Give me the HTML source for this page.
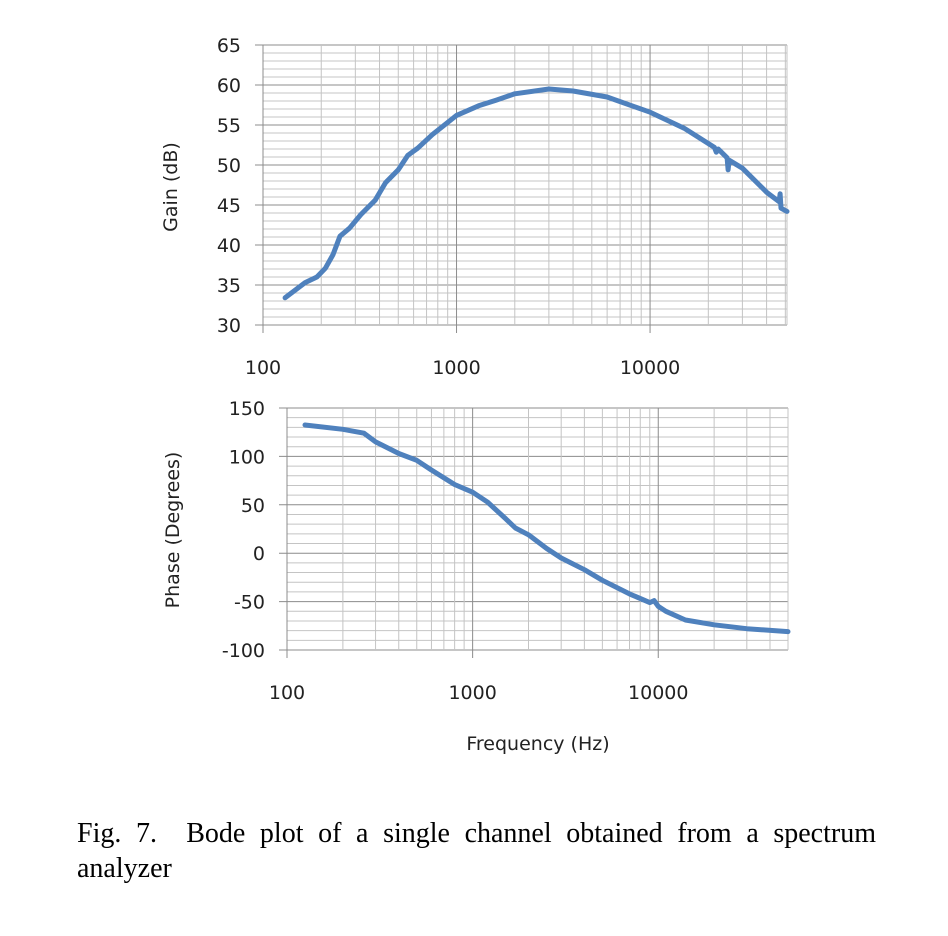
<!DOCTYPE html>
<html><head><meta charset="utf-8"><style>
body{margin:0;background:#fff;width:948px;height:936px;overflow:hidden}
svg{position:absolute;left:0;top:0}
.t{font-family:"DejaVu Sans","Liberation Sans",sans-serif;font-size:19px;fill:#222}
.cap{position:absolute;left:77px;top:816px;width:799px;font-family:"Liberation Serif",serif;font-size:28px;line-height:35px;text-align:justify;color:#000}
</style></head><body>
<svg id="s" width="948" height="936"></svg>
<div class="cap">Fig. 7.&nbsp; Bode plot of a single channel obtained from a spectrum analyzer</div>
<script>
const gainFreq=[130,165,190,210,230,250,280,320,380,430,500,560,630,750,1000,1300,1600,2000,3000,4000,6000,10000,15000,21500,22000,22500,25000,25300,25600,30000,40000,46500,47000,47500,51000];
const gainDb=[33.4,35.3,36,37.1,38.8,41.1,42.1,43.8,45.6,47.8,49.4,51.2,52.1,53.8,56.2,57.4,58.1,58.9,59.5,59.25,58.5,56.6,54.6,52.2,51.6,52.0,50.9,49.4,50.6,49.6,46.6,45.4,46.4,44.6,44.2];
const phaseFreq=[125,200,260,300,400,500,600,800,1000,1200,1500,1700,2000,2500,3000,4000,5000,7000,9000,9500,10000,11000,14000,20000,30000,50000];
const phaseDeg=[132.4,128,124,115,103,96,86,71,63,53,36,26,19,5,-5,-17,-28,-42,-51,-49,-55,-60,-69,-74,-78,-81];
const gainTicks=[30,35,40,45,50,55,60,65];
const phaseTicks=[-100,-50,0,50,100,150];
const freqTicks=[100,1000,10000];
const NS='http://www.w3.org/2000/svg';
const svg=document.getElementById('s');
function el(t,a,p){const e=document.createElementNS(NS,t);for(const k in a)e.setAttribute(k,a[k]);(p||svg).appendChild(e);return e;}
function plot(o){
  const g=el('g',{});
  
  
  const lx=Math.log10(o.fmin),rx=Math.log10(o.fmax);
  const X=f=>o.x0+(Math.log10(f)-lx)/(rx-lx)*(o.x1-o.x0);
  const Y=v=>o.y1-(v-o.ymin)/(o.ymax-o.ymin)*(o.y1-o.y0);
  for(let v=o.ymin;v<=o.ymax;v+=o.minor){
    const maj=Math.abs((v-o.ymin)%o.major)<1e-6;
    const l=el('line',{x1:maj?o.x0-8:o.x0,x2:o.x1,y1:Y(v),y2:Y(v),stroke:maj?'#8c8c8c':'#c4c4c4','stroke-width':1},g);
    
    
  }
  for(let d=100;d<=o.fmax;d*=10){
    for(let m=1;m<10;m++){const f=d*m;if(f>o.fmax)break;
      const l=el('line',{x1:X(f),x2:X(f),y1:o.y0,y2:o.y1+(m==1?8:0),stroke:m==1?'#8c8c8c':'#c4c4c4','stroke-width':1},g);
      
      }
  }
  const r=el('line',{x1:o.x1,x2:o.x1,y1:o.y0,y2:o.y1,stroke:'#c4c4c4'},g);
  
  
  o.ticks.forEach(v=>{const t=el('text',{x:o.x0-22,y:Y(v)+7,'text-anchor':'end',class:'t'},g);t.textContent=v;
    
    });
  freqTicks.forEach(f=>{const t=el('text',{x:X(f),y:o.xly,'text-anchor':'middle',class:'t'},g);t.textContent=f;
    
    });
  const pts=o.fx.map((f,i)=>X(f).toFixed(1)+','+Y(o.vy[i]).toFixed(1)).join(' ');
  const pl=el('polyline',{points:pts,fill:'none',stroke:'#4f81bd','stroke-width':5,'stroke-linejoin':'round','stroke-linecap':'round'},g);
  
  
  const yt=el('text',{x:0,y:0,'text-anchor':'middle',class:'t',transform:`translate(${o.ytx},${o.yty}) rotate(-90)`},g);
  yt.textContent=o.ytitle;
  
  
}
plot({name:'gain-plot',series:'gain-line',x0:263,x1:787,y0:45,y1:325,fmin:100,fmax:51000,ymin:30,ymax:65,minor:1,major:5,ticks:gainTicks,xly:374,fx:gainFreq,vy:gainDb,ytitle:'Gain (dB)',ytx:177,yty:187});
plot({name:'phase-plot',series:'phase-line',x0:287,x1:788,y0:408,y1:650,fmin:100,fmax:50000,ymin:-100,ymax:150,minor:10,major:50,ticks:phaseTicks,xly:699,fx:phaseFreq,vy:phaseDeg,ytitle:'Phase (Degrees)',ytx:179,yty:530});
const xt=el('text',{x:538,y:750,'text-anchor':'middle',class:'t'});
xt.textContent='Frequency (Hz)';


</script>
</body></html>
